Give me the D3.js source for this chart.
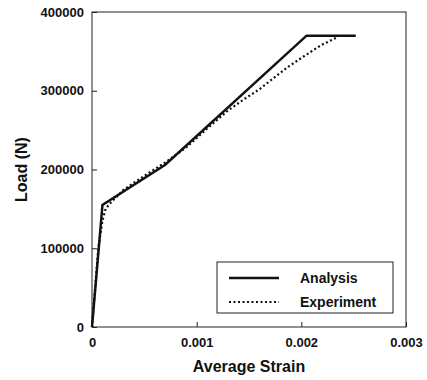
<!DOCTYPE html>
<html lang="en">
<head>
    <meta charset="UTF-8">
    <title>Load vs Average Strain</title>
    <script src="https://cdn.jsdelivr.net/npm/d3@7"></script>
    <style>
        body { margin: 0; background: #fff; }
        text { font-family: "Liberation Sans", Arial, sans-serif; fill: #111; }
    </style>
</head>
<body>
    <svg width="427" height="380" id="chart"></svg>

    <script>
        // Analysis curve (strain, load N)
        const analysisStrain = [0, 0.0001, 0.0007, 0.00205, 0.00252];
        const analysisLoad = [0, 155000, 206000, 370000, 370000];

        // Experiment curve (strain, load N)
        const experimentStrain = [0, 0.00003, 0.00006, 0.0001, 0.00013, 0.00018, 0.0003, 0.0005, 0.0007, 0.0009, 0.0011, 0.0013, 0.00145, 0.0016, 0.00187, 0.00205, 0.00219, 0.00233];
        const experimentLoad = [0, 50000, 100000, 135000, 150000, 158000, 174000, 192000, 209000, 228000, 252000, 275000, 289000, 302000, 330000, 346000, 358000, 367000];

        const xTicks = [0, 0.001, 0.002, 0.003];
        const yTicks = [0, 100000, 200000, 300000, 400000];
        const legendLabels = ["Analysis", "Experiment"];

        const plot = { left: 92, right: 406, top: 12, bottom: 327 };
        const svg = d3.select("#chart");

        const x = d3.scaleLinear().domain([0, 0.003]).range([plot.left, plot.right]);
        const y = d3.scaleLinear().domain([0, 400000]).range([plot.bottom, plot.top]);

        // frame
        svg.append("rect")
            .attr("x", plot.left).attr("y", plot.top)
            .attr("width", plot.right - plot.left).attr("height", plot.bottom - plot.top)
            .style("fill", "none").style("stroke", "#222").style("stroke-width", 1);

        // axes with inward ticks
        const xAxis = svg.append("g")
            .attr("transform", `translate(0,${plot.bottom})`)
            .call(d3.axisBottom(x).tickValues(xTicks).tickSize(-5).tickPadding(11)
                .tickFormat(d => d === 0 ? "0" : d3.format(".3f")(d)));
        const yAxis = svg.append("g")
            .attr("transform", `translate(${plot.left},0)`)
            .call(d3.axisLeft(y).tickValues(yTicks).tickSize(-5).tickPadding(8)
                .tickFormat(d3.format("d")));

        [xAxis, yAxis].forEach(g => {
            g.select(".domain").remove();
            g.selectAll(".tick line").style("stroke", "#222");
            g.selectAll(".tick text")
                .style("font-size", "13px").style("font-weight", "bold")
                .style("font-family", "'Liberation Sans', Arial, sans-serif").style("fill", "#111");
        });

        const line = d3.line().x(d => x(d[0])).y(d => y(d[1]));
        const analysis = analysisStrain.map((s, i) => [s, analysisLoad[i]]);
        const experiment = experimentStrain.map((s, i) => [s, experimentLoad[i]]);

        svg.append("path")
            .attr("d", line(experiment))
            .style("fill", "none").style("stroke", "#111")
            .style("stroke-width", 2.2).style("stroke-dasharray", "2,2.5");

        svg.append("path")
            .attr("d", line(analysis))
            .style("fill", "none").style("stroke", "#111")
            .style("stroke-width", 2.5).style("stroke-linejoin", "miter");

        // axis titles
        svg.append("text")
            .attr("x", (plot.left + plot.right) / 2).attr("y", 372)
            .attr("text-anchor", "middle")
            .style("font-size", "16px").style("font-weight", "bold")
            .text("Average Strain");

        svg.append("text")
            .attr("transform", `translate(27,${(plot.top + plot.bottom) / 2}) rotate(-90)`)
            .attr("text-anchor", "middle")
            .style("font-size", "16px").style("font-weight", "bold")
            .text("Load (N)");

        // legend
        const legend = svg.append("g");
        legend.append("rect")
            .attr("x", 217).attr("y", 262).attr("width", 176).attr("height", 51)
            .style("fill", "#fff").style("stroke", "#222").style("stroke-width", 1);

        const styles = [{ w: 2.5, dash: null }, { w: 2, dash: "2,2.5" }];
        legendLabels.forEach((label, i) => {
            const ly = 278 + i * 24;
            legend.append("line")
                .attr("x1", 229).attr("x2", 279).attr("y1", ly).attr("y2", ly)
                .style("stroke", "#111").style("stroke-width", styles[i].w)
                .style("stroke-dasharray", styles[i].dash);
            legend.append("text")
                .attr("x", 300).attr("y", ly + 5)
                .style("font-size", "14px").style("font-weight", "bold")
                .text(label);
        });
    </script>
</body>
</html>
